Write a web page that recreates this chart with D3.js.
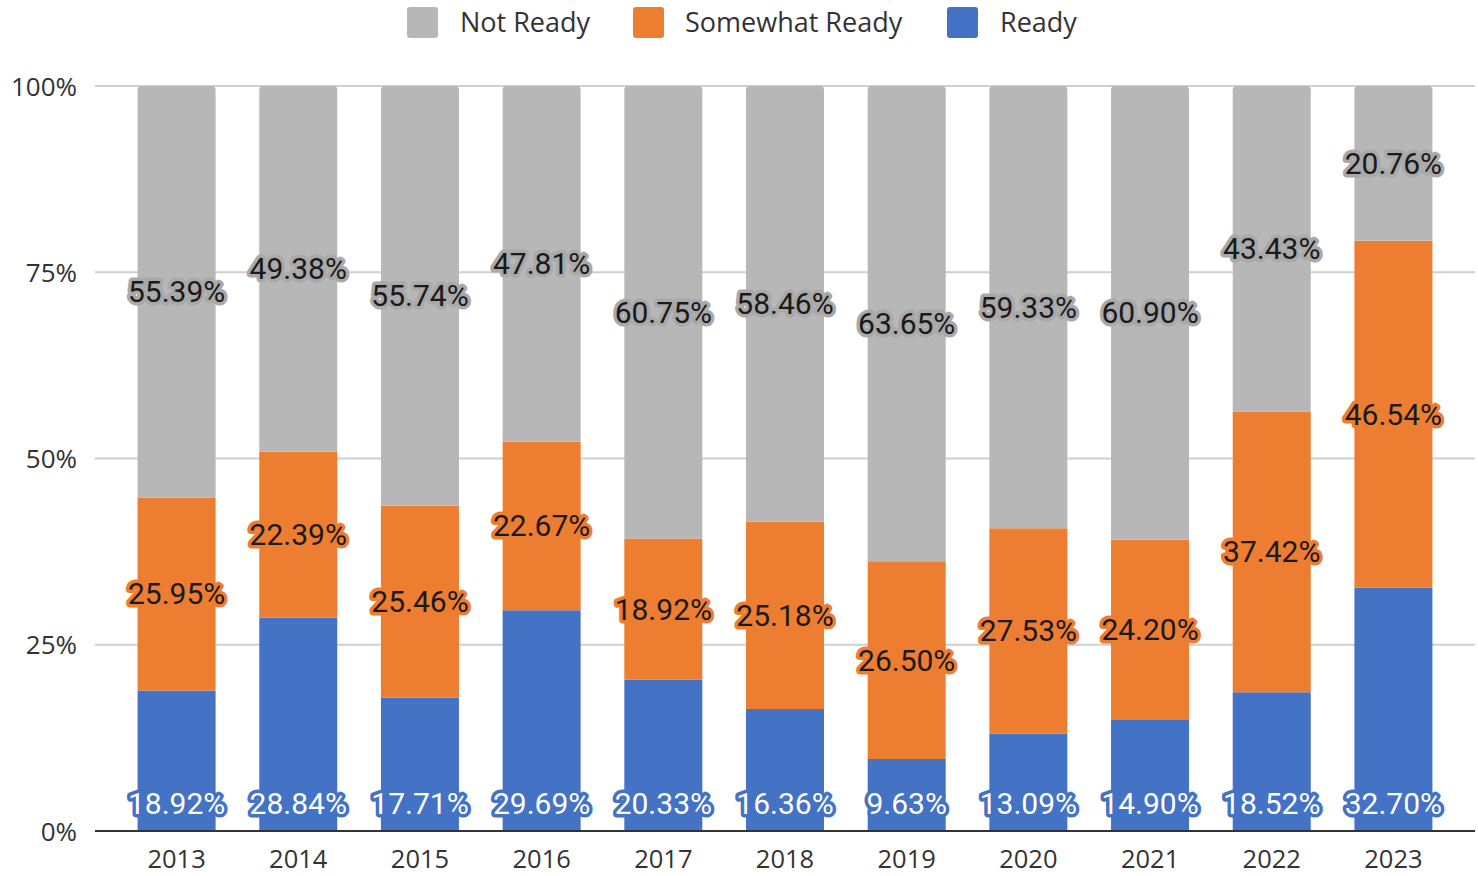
<!DOCTYPE html>
<html><head><meta charset="utf-8">
<script src="https://cdn.jsdelivr.net/npm/d3@7"></script>
<style>body{margin:0;background:#fff;} svg{display:block;}</style>
</head><body>
<svg id="chart" width="1478" height="876"></svg>
<script>
const years = ["2013","2014","2015","2016","2017","2018","2019","2020","2021","2022","2023"];
const ready = [18.92, 28.84, 17.71, 29.69, 20.33, 16.36, 9.63, 13.09, 14.90, 18.52, 32.70];
const somewhatReady = [25.95, 22.39, 25.46, 22.67, 18.92, 25.18, 26.50, 27.53, 24.20, 37.42, 46.54];
const notReady = [55.39, 49.38, 55.74, 47.81, 60.75, 58.46, 63.65, 59.33, 60.90, 43.43, 20.76];
const seriesNames = ["Ready", "Somewhat Ready", "Not Ready"];
const yTicks = [0, 0.25, 0.5, 0.75, 1];
const colors = {"Ready":"#4472c4","Somewhat Ready":"#ed7d31","Not Ready":"#b7b7b7"};
const halo = {"Ready":"#4472c4","Somewhat Ready":"#ed7d31","Not Ready":"#a9a9a9"};
const textFill = {"Ready":"#ffffff","Somewhat Ready":"#1a1a1a","Not Ready":"#1a1a1a"};

const rows = years.map((y,i)=>({year:y, "Ready":ready[i], "Somewhat Ready":somewhatReady[i], "Not Ready":notReady[i]}));
const svg = d3.select("#chart");
const L = 95, R = 1475, T = 86, B = 831;
const x = d3.scaleBand().domain(years).range([L, R]).paddingInner(0.359).paddingOuter(0.35);
const y = d3.scaleLinear().domain([0,1]).range([B, T]);
const stack = d3.stack().keys(seriesNames).offset(d3.stackOffsetExpand);
const layers = stack(rows);

// gridlines
svg.append("g").selectAll("line").data(yTicks.filter(t=>t>0)).join("line")
  .attr("x1", L).attr("x2", R).attr("y1", d=>y(d)).attr("y2", d=>y(d))
  .attr("stroke", "#cfcfcf").attr("stroke-width", 2);

// y axis labels
const yAxis = d3.axisLeft(y).tickValues(yTicks).tickFormat(d3.format(".0%")).tickSize(0).tickPadding(0);
const yg = svg.append("g").attr("transform", `translate(${L-18},0)`).call(yAxis);
yg.select(".domain").remove();
yg.selectAll("text").attr("font-family","'Open Sans', sans-serif").attr("font-size", 26).attr("fill","#333").attr("dy","0.35em");

// bars
const r = 4;
layers.forEach(layer => {
  const key = layer.key;
  svg.append("g").selectAll("path").data(layer).join("path")
    .attr("fill", colors[key])
    .attr("d", d => {
      const x0 = x(d.data.year), w = x.bandwidth();
      const yt = y(d[1]), yb = y(d[0]);
      if (key === "Not Ready") {
        return `M${x0},${yb}V${yt+r}Q${x0},${yt} ${x0+r},${yt}H${x0+w-r}Q${x0+w},${yt} ${x0+w},${yt+r}V${yb}Z`;
      }
      return `M${x0},${yb}V${yt}H${x0+w}V${yb}Z`;
    });
});

// baseline
svg.append("line").attr("x1", L).attr("x2", R).attr("y1", B).attr("y2", B).attr("stroke","#333").attr("stroke-width",2);

// x axis labels
const xAxis = d3.axisBottom(x).tickSize(0).tickPadding(0);
const xg = svg.append("g").attr("transform", `translate(0,${B+28})`).call(xAxis);
xg.select(".domain").remove();
xg.selectAll("text").attr("font-family","'Open Sans', sans-serif").attr("font-size", 25.5).attr("fill","#333").attr("dy","0.35em");

// data labels
layers.forEach(layer => {
  const key = layer.key;
  svg.append("g").selectAll("text").data(layer).join("text")
    .attr("x", d => x(d.data.year) + x.bandwidth()/2)
    .attr("y", d => key === "Ready" ? y(0) - 28 : (y(d[0]) + y(d[1]))/2)
    .attr("text-anchor","middle").attr("dy","0.35em")
    .attr("font-family","Roboto, sans-serif").attr("font-size", 30)
    .attr("fill", textFill[key]).attr("stroke", halo[key]).attr("stroke-width", 7)
    .attr("stroke-linejoin","round").attr("paint-order","stroke")
    .text(d => d.data[key].toFixed(2) + "%");
});

// legend
const legendItems = [
  {name:"Not Ready", sx:407, tx:460},
  {name:"Somewhat Ready", sx:633, tx:685},
  {name:"Ready", sx:947, tx:1000}
];
const lg = svg.append("g");
lg.selectAll("rect").data(legendItems).join("rect")
  .attr("x", d=>d.sx).attr("y", 7).attr("width", 31).attr("height", 31).attr("rx", 3)
  .attr("fill", d=>colors[d.name]);
lg.selectAll("text").data(legendItems).join("text")
  .attr("x", d=>d.tx).attr("y", 23).attr("dy","0.35em")
  .attr("font-family","'Open Sans', sans-serif").attr("font-size", 27).attr("fill","#333")
  .text(d=>d.name);
</script>
</body></html>
